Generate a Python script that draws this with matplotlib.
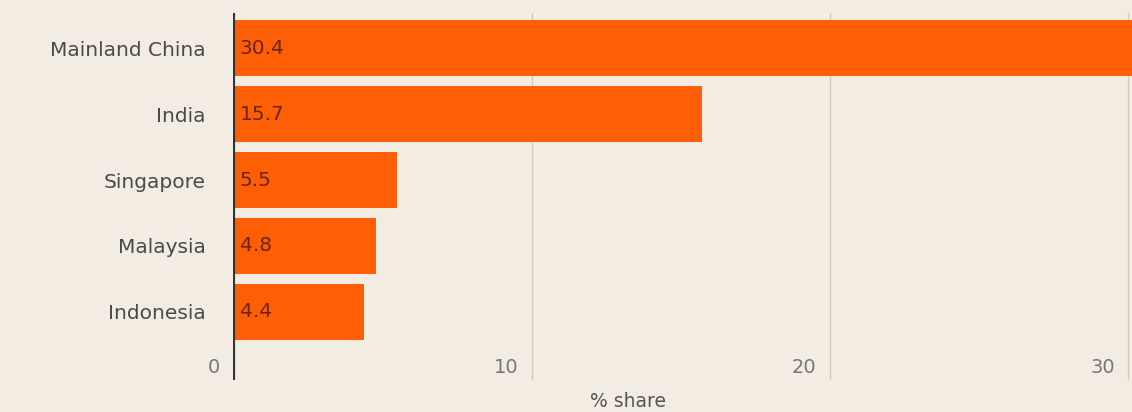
import matplotlib.pyplot as plt

plt.rcParams["font.family"] = "DejaVu Sans"

countries = ["Mainland China", "India", "Singapore", "Malaysia", "Indonesia"]
shares = [30.4, 15.7, 5.5, 4.8, 4.4]
x_ticks = [0, 10, 20, 30]

bg = "#f2ece3"
bar_color = "#fd5e06"

fig = plt.figure(figsize=(11.32, 4.12), dpi=100, facecolor=bg)
ax = fig.add_axes([0.206, 0.078, 0.794, 0.890], facecolor=bg)

pos = list(range(len(countries)))
ax.barh(pos, shares, height=0.86, color=bar_color, zorder=2)

for p, v in zip(pos, shares):
    ax.text(0.22, p, f"{v}", va="center", ha="left", fontsize=14.5,
            color="#6e2410", zorder=3)

ax.set_xlim(0, 30.13)
ax.set_ylim(5.03, -0.53)

# grid lines, with the tick values drawn just left of each line
for t in x_ticks:
    if t > 0:
        ax.axvline(t, color="#cfc9bf", lw=1, zorder=1)
    ax.text(t - 0.45, 4.85, str(t), ha="right", va="center", fontsize=14,
            color="#777777")
ax.axvline(0, color="#333333", lw=3, zorder=4)

ax.set_yticks(pos)
ax.set_yticklabels(countries, fontsize=14.5, color="#4a4a4a")
ax.tick_params(axis="y", length=0, pad=20)
ax.set_xticks([])
for s in ax.spines.values():
    s.set_visible(False)

fig.text(628 / 1132, 0.025, "% share", ha="center", va="center",
         fontsize=13.5, color="#555555")

fig.savefig("out.png", dpi=100, facecolor=bg)
